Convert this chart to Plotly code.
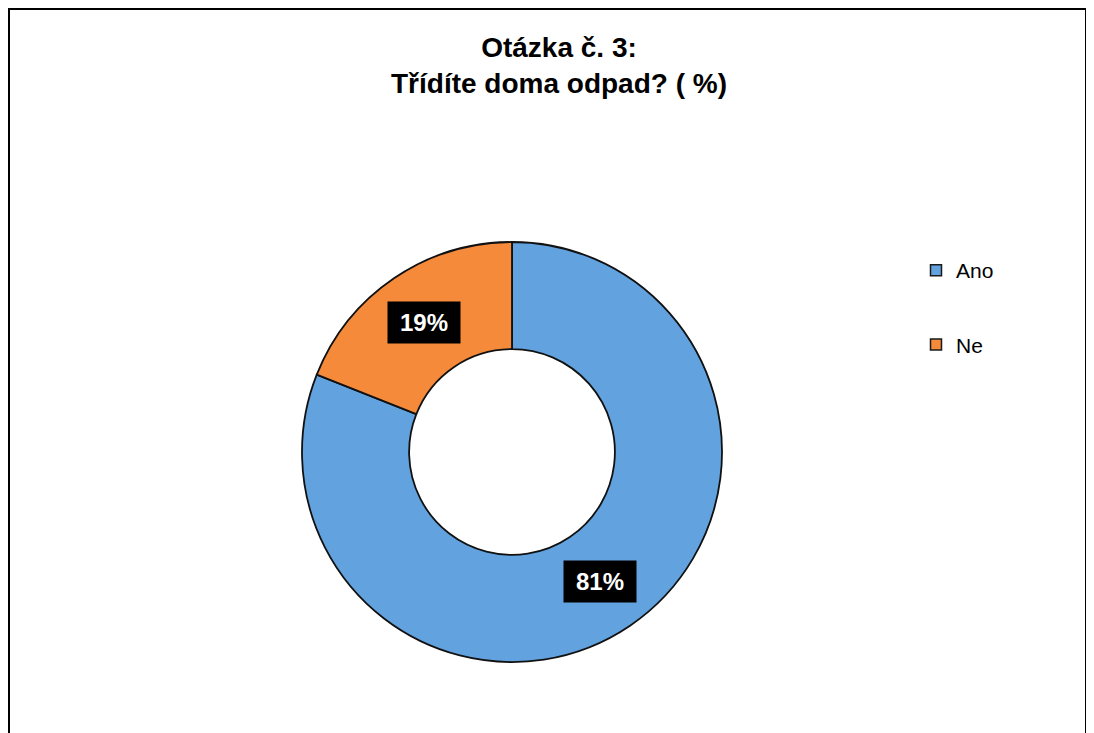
import math
import plotly.graph_objects as go

labels = ["Ano", "Ne"]
values = [81, 19]
colors = ["#62A3DF", "#F58A3B"]
title = "Otázka č. 3:<br>Třídíte doma odpad? ( %)"

# page body has an 8px margin, so the figure is 8px smaller
W, H = 1086, 725
font = "Arial, Liberation Sans, sans-serif"

# donut placement in figure pixels
cx, cy, r_out = 504, 444, 210
hole = 0.49
r_lab = r_out * (1 + hole) / 2

fig = go.Figure()
fig.add_trace(go.Pie(
    labels=labels, values=values, hole=hole,
    sort=False, direction="clockwise", rotation=0,
    marker=dict(colors=colors, line=dict(color="#111111", width=1.8)),
    textinfo="none", showlegend=False,
    domain=dict(x=[(cx - r_out) / W, (cx + r_out) / W],
                y=[1 - (cy + r_out) / H, 1 - (cy - r_out) / H]),
))

# legend entries as dummy markers so the spacing can match
for lab, col in zip(labels, colors):
    fig.add_trace(go.Scatter(
        x=[None], y=[None], mode="markers", name=lab, legendgroup=lab,
        marker=dict(symbol="square", size=11, color=col,
                    line=dict(color="#1a1a1a", width=1.5)),
    ))

# percentage labels in black boxes, placed from the slice angles
total = sum(values)
start = 0.0
for v in values:
    mid = (start + v / 2) / total * 2 * math.pi
    start += v
    px = cx + r_lab * math.sin(mid)
    py = cy - r_lab * math.cos(mid)
    fig.add_annotation(
        x=px / W, y=1 - py / H, xref="paper", yref="paper",
        xanchor="center", yanchor="middle",
        text=f"<b>{round(v / total * 100)}%</b>", showarrow=False,
        font=dict(family=font, size=24, color="white"),
        bgcolor="black", width=70, height=39,
    )

fig.add_shape(type="rect", xref="paper", yref="paper",
              x0=1 / W, x1=1078 / W, y0=-0.05, y1=1 - 1 / H,
              line=dict(color="black", width=2))

fig.update_layout(
    width=W, height=H,
    margin=dict(l=0, r=0, t=0, b=0),
    paper_bgcolor="white", plot_bgcolor="white",
    title=dict(text=f"<b>{title}</b>", x=551 / W, xanchor="center",
               y=1 - 49 / H, yanchor="middle", yref="container",
               font=dict(family=font, size=28, color="black")),
    xaxis=dict(visible=False), yaxis=dict(visible=False),
    legend=dict(x=908 / W, xanchor="left", y=1 - 242 / H, yanchor="top",
                traceorder="grouped", tracegroupgap=44,
                font=dict(family=font, size=21, color="black"),
                itemwidth=30),
)

fig.write_html("out.html")
